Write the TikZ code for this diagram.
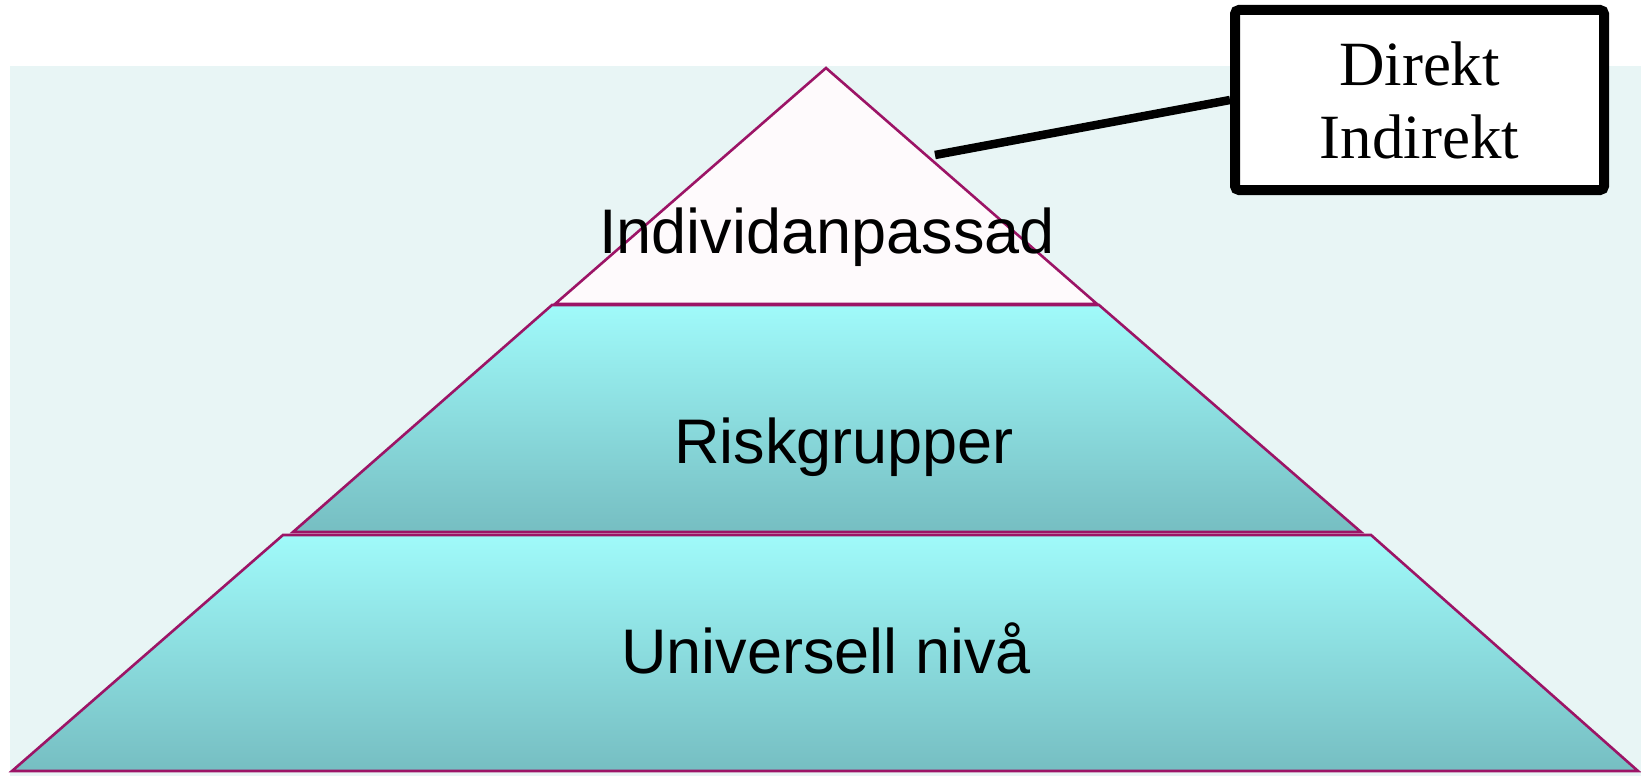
\documentclass[tikz,border=0pt]{standalone}
\usepackage{fontspec}
\setmainfont{Liberation Serif}
\newfontfamily\arialfont{Liberation Sans}
\definecolor{bgteal}{HTML}{E8F5F5}
\definecolor{edgemag}{HTML}{9C1466}
\definecolor{toplight}{HTML}{A0FAFA}
\definecolor{botdark}{HTML}{76BEC2}
\definecolor{tipfill}{HTML}{FEFAFC}
\begin{document}
\begin{tikzpicture}[x=1pt,y=-1pt,
  tier/.style={draw=edgemag,line width=2.6pt,line join=miter},
  layer/.style={tier,top color=toplight,bottom color=botdark},
  label/.style={font=\arialfont\fontsize{63}{73}\selectfont,anchor=base,inner sep=0pt,text=black},
  callout/.style={draw=black,line width=10pt,rounded corners=4pt,fill=white,minimum width=369pt,minimum height=180pt,inner sep=0pt,align=center,font=\fontsize{63}{73}\selectfont}]
\useasboundingbox (0,0) rectangle (1641,776);
\fill[white] (0,0) rectangle (1641,776);
\fill[bgteal] (10,66) rectangle (1641,776);
% tiers
\draw[tier,fill=tipfill] (826,68) -- (1097,304) -- (555,304) -- cycle;
\draw[layer] (552,305) -- (1099,305) -- (1361,532) -- (293,532) -- cycle;
\draw[layer] (283,535) -- (1371,535) -- (1638,771) -- (12,771) -- cycle;
% labels
\node[label] (top) at (827,253) {Individanpassad};
\node[label] (mid) at (844,463) {Riskgrupper};
\node[label] (bot) at (826,673) {Universell nivå};
% callout
\node[callout] (box) at (1419.5,100) {Direkt\\Indirekt};
\coordinate (tip) at (935,155);
\draw[line width=8.5pt] (tip) -- (box.west);
\end{tikzpicture}
\end{document}
